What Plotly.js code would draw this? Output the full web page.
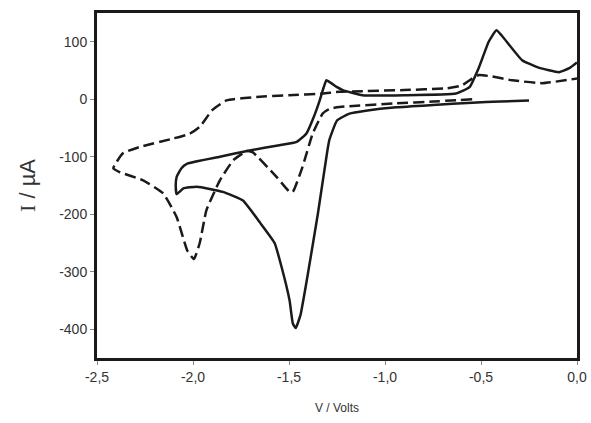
<!DOCTYPE html>
<html><head><meta charset="utf-8">
<script src="https://cdn.plot.ly/plotly-3.0.1.min.js"></script>
<style>html,body{margin:0;padding:0;background:#fff}</style>
</head><body><div id="chart" style="width:591px;height:423px"></div>
<script>
var solidV = [-0.25,-0.40,-0.546,-0.75,-0.94,-1.10,-1.185,-1.25,-1.29,-1.30,-1.35,-1.41,-1.44,-1.465,-1.48,-1.497,-1.54,-1.575,-1.65,-1.74,-1.845,-1.98,-2.05,-2.085,-2.09,-2.085,-2.06,-2.03,-1.86,-1.705,-1.55,-1.46,-1.41,-1.37,-1.34,-1.32,-1.305,-1.28,-1.25,-1.22,-1.117,-0.9,-0.63,-0.56,-0.51,-0.46,-0.42,-0.39,-0.286,-0.20,-0.094,-0.04,0.0];
var solidI = [-2,-4,-6,-10,-14,-20,-25,-37,-71,-89,-200,-320,-375,-398,-390,-350,-290,-250,-215,-176,-161,-152,-155,-165,-150,-135,-120,-112,-100,-89,-80,-74,-60,-30,-2,20,33,28,21,16,7,7,10,21,56,100,120,110,68,55,47,54,64];
var dashV = [-0.546,-0.75,-0.94,-1.185,-1.25,-1.29,-1.325,-1.377,-1.43,-1.48,-1.50,-1.565,-1.69,-1.72,-1.79,-1.86,-1.93,-1.965,-1.995,-2.03,-2.085,-2.155,-2.26,-2.38,-2.415,-2.365,-2.277,-2.10,-2.017,-1.965,-1.9,-1.825,-1.67,-1.5,-1.325,-1.237,-1.117,-0.9,-0.68,-0.6,-0.546,-0.51,-0.45,-0.338,-0.18,0.0];
var dashI = [0,-4,-7,-12,-14,-17,-25,-60,-118,-161,-160,-135,-92,-90,-106,-141,-193,-250,-278,-263,-205,-164,-141,-127,-120,-94,-83,-68,-60,-48,-19,-2,4,7,10,13,14,16,19,24,36,42,40,33,28,36];
var xTicks = [-2.5,-2.0,-1.5,-1.0,-0.5,0.0];
var xTickText = ['-2,5','-2,0','-1,5','-1,0','-0,5','0,0'];
var yTicks = [-400,-300,-200,-100,0,100];
var yTickText = ['-400','-300','-200','-100','0','100'];

var traces = [
  {x: solidV, y: solidI, mode:'lines', line:{color:'#1a1a1a', width:2.5, shape:'spline', smoothing:0.4}, showlegend:false},
  {x: dashV, y: dashI, mode:'lines', line:{color:'#1a1a1a', width:2.5, dash:'11px,5px', shape:'spline', smoothing:0.4}, showlegend:false}
];
var layout = {
  width:591, height:423,
  margin:{l:97, r:14, t:13, b:65},
  paper_bgcolor:'#fff', plot_bgcolor:'#fff',
  font:{family:'Liberation Sans, Arial, sans-serif', color:'#333'},
  xaxis:{range:[-2.5,0.0], tickvals:xTicks, ticktext:xTickText, showgrid:false, zeroline:false,
    showline:true, mirror:true, linewidth:3, linecolor:'#1a1a1a',
    ticks:'outside', ticklen:4, tickwidth:1, tickcolor:'#888',
    tickfont:{size:14, color:'#333'},
    title:{text:'V / Volts', font:{size:12, color:'#333'}, standoff:20}},
  yaxis:{range:[-450,150], tickvals:yTicks, ticktext:yTickText, showgrid:false, zeroline:false,
    showline:true, mirror:true, linewidth:3, linecolor:'#1a1a1a',
    ticks:'outside', ticklen:4, tickwidth:1, tickcolor:'#888',
    tickfont:{size:14, color:'#333'},
    title:{text:'<span style="font-family:Liberation Serif">I</span> / µA', font:{size:22, color:'#333'}, standoff:18}}
};
Plotly.newPlot('chart', traces, layout, {displayModeBar:false, staticPlot:true});
</script></body></html>
